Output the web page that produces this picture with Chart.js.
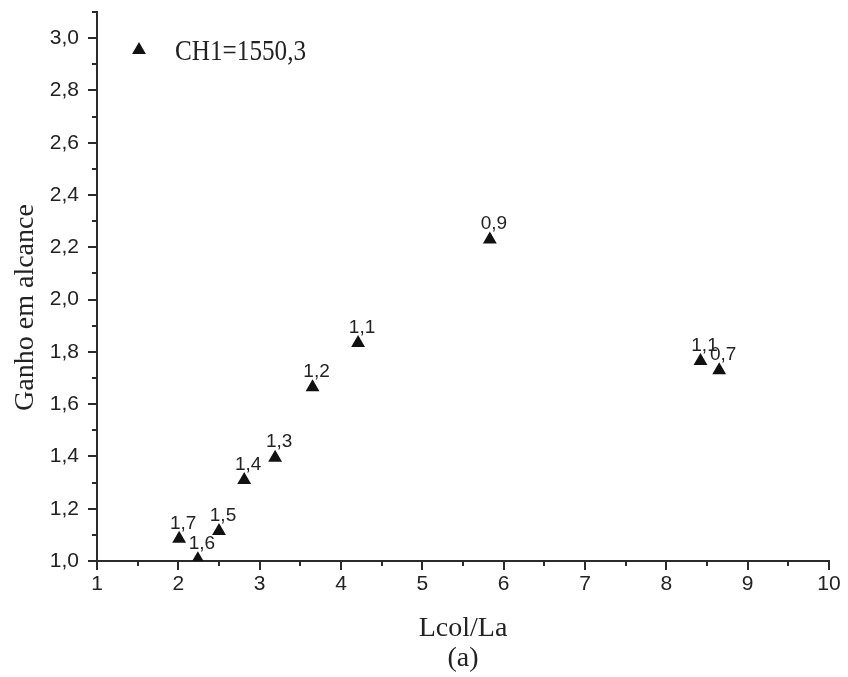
<!DOCTYPE html>
<html lang="pt">
<head>
<meta charset="utf-8">
<script src="https://cdn.jsdelivr.net/npm/chart.js@4.4.1/dist/chart.umd.min.js"></script>
<style>
  html, body { margin: 0; padding: 0; background: #fff; }
  canvas { display: block; }
</style>
</head>
<body>
<canvas id="grafico" width="848" height="677"></canvas>
<script>
// Lcol/La
const razoes = [2.01, 2.24, 2.50, 2.81, 3.19, 3.65, 4.21, 5.83, 8.42, 8.65];
// Ganho em alcance
const ganhos = [1.085, 1.007, 1.115, 1.31, 1.395, 1.665, 1.834, 2.23, 1.765, 1.73];
// rotulos escritos ao lado de cada ponto
const rotulos = ['1,7', '1,6', '1,5', '1,4', '1,3', '1,2', '1,1', '0,9', '1,1', '0,7'];
const serie = 'CH1=1550,3';
const tituloY = 'Ganho em alcance';

const COR = {
  PRETO: '#111',
  EIXO: '#2b2b2b',
  TEXTO: '#222',
};
const RAIO = 8;
const SANS = '"Liberation Sans", Arial, sans-serif';
const SERIF = '"Liberation Serif", "Times New Roman", serif';

const virgula = (v, casas) => Number(v).toFixed(casas).replace('.', ',');

// marcas maiores e menores, viradas para fora
const marcasEixos = {
  id: 'marcasEixos',
  afterDraw(chart) {
    const { ctx, chartArea } = chart;
    const { x, y } = chart.scales;
    const menores = (escala, passo) => {
      const valores = [];
      escala.ticks.forEach((t) => {
        const v = t.value + passo / 2;
        if (v <= escala.max + 1e-9) valores.push(v);
      });
      return valores;
    };
    ctx.save();
    ctx.strokeStyle = COR.EIXO;
    ctx.lineWidth = 2;
    ctx.beginPath();
    x.ticks.forEach((t) => {
      const px = Math.round(x.getPixelForValue(t.value));
      ctx.moveTo(px, chartArea.bottom);
      ctx.lineTo(px, chartArea.bottom + 9);
    });
    menores(x, 1).forEach((v) => {
      const px = Math.round(x.getPixelForValue(v));
      ctx.moveTo(px, chartArea.bottom);
      ctx.lineTo(px, chartArea.bottom + 5);
    });
    y.ticks.forEach((t) => {
      const py = Math.round(y.getPixelForValue(t.value));
      ctx.moveTo(chartArea.left, py);
      ctx.lineTo(chartArea.left - 9, py);
    });
    menores(y, 0.2).forEach((v) => {
      const py = Math.round(y.getPixelForValue(v));
      ctx.moveTo(chartArea.left, py);
      ctx.lineTo(chartArea.left - 5, py);
    });
    ctx.stroke();

    // titulo do eixo y, centrado um pouco abaixo do meio como no original
    ctx.fillStyle = COR.TEXTO;
    ctx.font = '28px ' + SERIF;
    ctx.textAlign = 'center';
    ctx.textBaseline = 'alphabetic';
    ctx.translate(33, (chartArea.top + chartArea.bottom) / 2 + 21);
    ctx.rotate(-Math.PI / 2);
    ctx.fillText(tituloY, 0, 0);
    ctx.restore();
  },
};

// rotulos dos pontos + legenda dentro do grafico
const rotulosPontos = {
  id: 'rotulosPontos',
  afterDatasetsDraw(chart) {
    const { ctx, chartArea } = chart;
    const meta = chart.getDatasetMeta(0);
    ctx.save();
    ctx.fillStyle = COR.TEXTO;
    ctx.font = '19px ' + SANS;
    ctx.textAlign = 'center';
    ctx.textBaseline = 'bottom';
    meta.data.forEach((ponto, i) => {
      ctx.fillText(rotulos[i], ponto.x + 4, ponto.y - RAIO + 2);
    });

    // legenda
    const lx = chartArea.left + 42;
    const ly = chartArea.top + 38;
    ctx.fillStyle = COR.PRETO;
    ctx.beginPath();
    ctx.moveTo(lx, ly - RAIO);
    ctx.lineTo(lx + RAIO * 0.866, ly + RAIO / 2);
    ctx.lineTo(lx - RAIO * 0.866, ly + RAIO / 2);
    ctx.closePath();
    ctx.fill();
    ctx.fillStyle = COR.TEXTO;
    ctx.textAlign = 'left';
    ctx.textBaseline = 'alphabetic';
    ctx.font = '30px ' + SERIF;
    ctx.translate(lx + 36, ly + 10);
    ctx.scale(0.84, 1);
    ctx.fillText(serie, 0, 0);
    ctx.restore();
  },
};

new Chart(document.getElementById('grafico'), {
  type: 'scatter',
  plugins: [marcasEixos, rotulosPontos],
  data: {
    datasets: [{
      label: serie,
      data: razoes.map((r, i) => ({ x: r, y: ganhos[i] })),
      pointStyle: 'triangle',
      pointRadius: RAIO,
      pointHoverRadius: RAIO,
      backgroundColor: COR.PRETO,
      borderColor: COR.PRETO,
      borderWidth: 0,
    }],
  },
  options: {
    responsive: false,
    animation: false,
    events: [],
    layout: { padding: { top: 12, right: 19, bottom: 0, left: 0 } },
    plugins: {
      legend: { display: false },
      tooltip: { enabled: false },
    },
    scales: {
      x: {
        type: 'linear',
        min: 1,
        max: 10,
        afterFit: (escala) => {
          escala.height = 116;
          escala.paddingLeft = 0;
          escala.paddingRight = 0;
        },
        ticks: {
          stepSize: 1,
          padding: 3,
          color: COR.TEXTO,
          font: { family: SANS, size: 21 },
          callback: (v) => v,
        },
        grid: { display: false },
        border: { display: true, color: COR.EIXO, width: 2 },
        title: {
          display: true,
          text: ['Lcol/La', '(a)'],
          color: COR.TEXTO,
          font: { family: SERIF, size: 28, lineHeight: 1.07 },
          padding: { top: 0, bottom: 3 },
        },
      },
      y: {
        type: 'linear',
        min: 1,
        max: 3.1,
        afterFit: (escala) => {
          escala.width = 97;
          escala.paddingTop = 0;
          escala.paddingBottom = 0;
        },
        ticks: {
          stepSize: 0.2,
          includeBounds: false,
          padding: 10,
          color: COR.TEXTO,
          font: { family: SANS, size: 21 },
          callback: (v) => virgula(v, 1),
        },
        grid: { display: false },
        border: { display: true, color: COR.EIXO, width: 2 },
      },
    },
  },
});
</script>
</body>
</html>
